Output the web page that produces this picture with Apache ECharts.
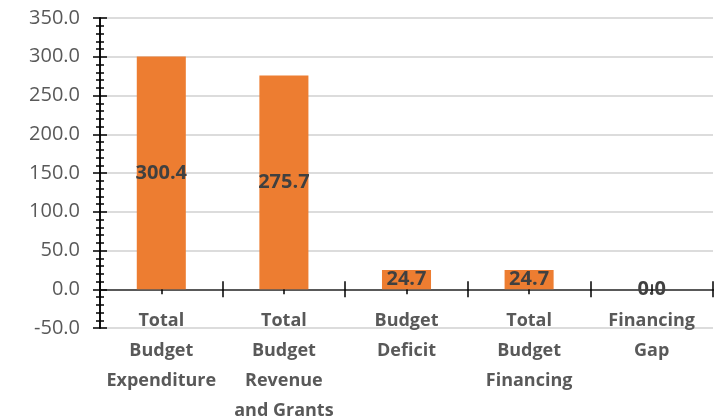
<!DOCTYPE html>
<html>
<head>
<meta charset="utf-8">
<script src="https://cdn.jsdelivr.net/npm/echarts@6/dist/echarts.min.js"></script>
<style>
  html, body { margin: 0; padding: 0; background: #fff; }
  #chart { width: 726px; height: 420px; }
</style>
</head>
<body>
<div id="chart"></div>
<script>
  // chart data
  var categories = [
    'Total\nBudget\nExpenditure',
    'Total\nBudget\nRevenue\nand Grants',
    'Budget\nDeficit',
    'Total\nBudget\nFinancing',
    'Financing\nGap'
  ]
  var values = [300.4, 275.7, 24.7, 24.7, 0.0]

  var font = '"Open Sans", Lato, sans-serif'
  var ec = echarts.init(document.getElementById('chart'))

  var tickLine = { color: '#000', width: 1.5 }

  // category axis sitting on zero of a given y axis (one x axis per y axis)
  function catAxis(yIdx, opts) {
    return Object.assign({
      type: 'category',
      data: categories,
      position: 'bottom',
      axisLine: { onZero: true, onZeroAxisIndex: yIdx, lineStyle: { color: '#595959', width: 1.5 } },
      axisLabel: { show: false },
      splitLine: { show: false }
    }, opts)
  }

  function valAxis(opts) {
    return Object.assign({
      type: 'value',
      min: -50,
      max: 350,
      interval: 50,
      position: 'left',
      axisLine: { show: true, onZero: false, lineStyle: { color: '#000', width: 1.5 } },
      axisLabel: { show: false },
      axisTick: { show: false },
      minorTick: { show: false },
      splitLine: { show: false }
    }, opts)
  }

  ec.setOption({
    animation: false,
    grid: { left: 100, right: 13, top: 18, bottom: 92, containLabel: false, outerBoundsMode: 'none' },
    xAxis: [
      catAxis(0, { axisTick: { show: true, inside: false, length: 8, lineStyle: tickLine } }),
      catAxis(1, { axisTick: { show: true, inside: true, length: 8, lineStyle: tickLine } }),
      catAxis(2, { axisTick: { show: true, alignWithLabel: true, inside: false, length: 5, lineStyle: tickLine } }),
      catAxis(3, { axisTick: { show: true, alignWithLabel: true, inside: true, length: 5, lineStyle: tickLine } }),
      // labels hang from the bottom of the plot (Excel "low" label position)
      {
        type: 'category',
        data: categories,
        position: 'bottom',
        axisLine: { show: false, onZero: false },
        axisTick: { show: false },
        splitLine: { show: false },
        axisLabel: {
          show: true,
          interval: 0,
          margin: -22,
          color: '#595959',
          fontFamily: font,
          fontWeight: 'bold',
          fontSize: 18,
          lineHeight: 30,
          align: 'center',
          verticalAlign: 'top'
        }
      }
    ],
    yAxis: [
      valAxis({
        axisTick: { show: true, inside: false, length: 7, lineStyle: tickLine },
        minorTick: { show: true, splitNumber: 5, length: 4, lineStyle: tickLine },
        axisLabel: {
          show: true,
          margin: 20,
          color: '#595959',
          fontFamily: font,
          fontSize: 20,
          formatter: function (v) { return v.toFixed(1) }
        },
        splitLine: { show: true, lineStyle: { color: '#d0d0d0', width: 1.5 } }
      }),
      valAxis({
        axisTick: { show: true, inside: true, length: 7, lineStyle: tickLine },
        minorTick: { show: true, splitNumber: 5, length: 4, lineStyle: tickLine }
      }),
      valAxis({ axisLine: { show: false, onZero: false } }),
      valAxis({ axisLine: { show: false, onZero: false } })
    ],
    series: [
      {
        type: 'bar',
        data: values,
        xAxisIndex: 0,
        yAxisIndex: 0,
        barWidth: '40%',
        itemStyle: { color: '#ED7D31' },
        label: {
          show: true,
          position: 'inside',
          color: '#404040',
          fontFamily: font,
          fontWeight: 'bold',
          fontSize: 20,
          formatter: function (p) { return p.value.toFixed(1) }
        }
      }
    ]
  })
</script>
</body>
</html>
